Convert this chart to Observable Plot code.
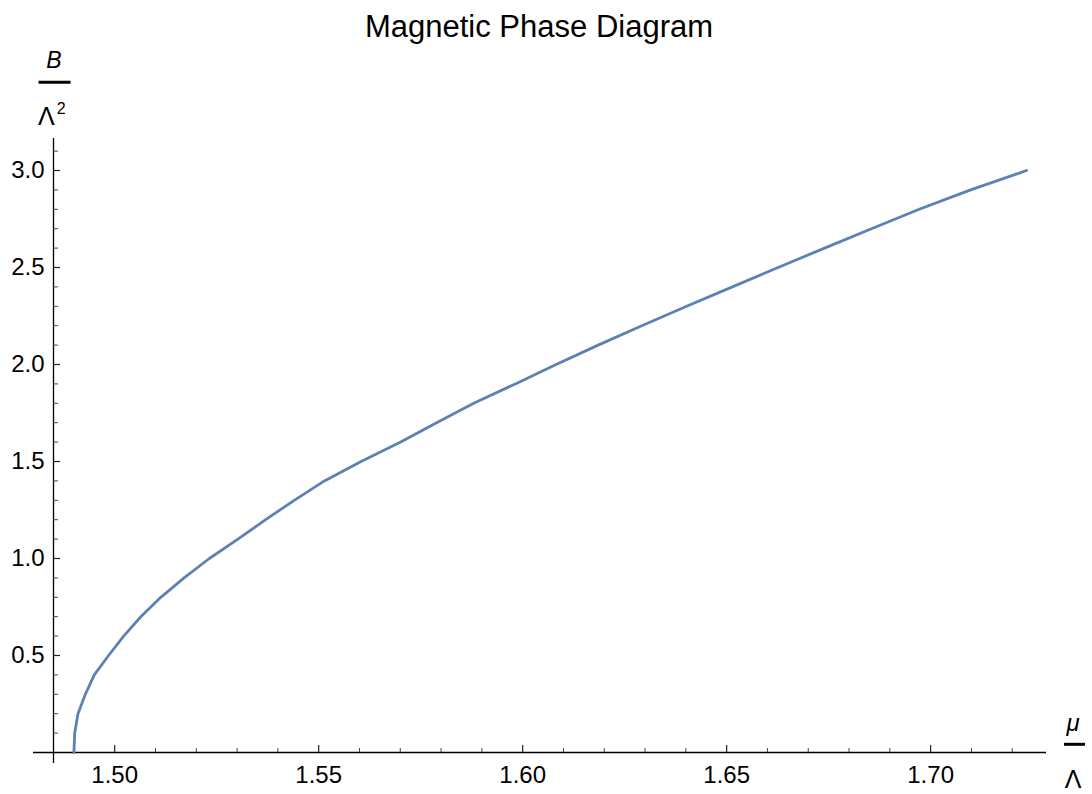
<!DOCTYPE html>
<html><head><meta charset="utf-8">
<script src="https://cdn.jsdelivr.net/npm/d3@7"></script>
<script src="https://cdn.jsdelivr.net/npm/@observablehq/plot@0.6"></script>
<style>
body{margin:0;background:#fff;}
#chart{width:1092px;height:794px;}
svg text{font-family:"Liberation Sans",Arial,Helvetica,sans-serif;}
</style>
</head><body><div id="chart"></div>
<script>
// Data (B/Λ² vs μ/Λ)
const B  = [0.0,0.1,0.2,0.3,0.4,0.5,0.6,0.7,0.8,0.9,1.0,1.1,1.2,1.3,1.4,1.5,1.6,1.7,1.8,1.9,2.0,2.1,2.2,2.3,2.4,2.5,2.6,2.7,2.8,2.9,3.0];
const mu = [1.4900,1.4902,1.4910,1.4928,1.4950,1.4985,1.5022,1.5064,1.5113,1.5170,1.5232,1.5302,1.5370,1.5440,1.5514,1.5604,1.5701,1.5789,1.5880,1.5982,1.6082,1.6185,1.6292,1.6402,1.6514,1.6626,1.6740,1.6855,1.6972,1.7098,1.7235];

const xMajor = [1.50,1.55,1.60,1.65,1.70];
const xMinor = [1.49,1.51,1.52,1.53,1.54,1.56,1.57,1.58,1.59,1.61,1.62,1.63,1.64,1.66,1.67,1.68,1.69,1.71,1.72];
const yMajor = [0.5,1.0,1.5,2.0,2.5,3.0];
const yMinor = [0.1,0.2,0.3,0.4,0.6,0.7,0.8,0.9,1.1,1.2,1.3,1.4,1.6,1.7,1.8,1.9,2.1,2.2,2.3,2.4,2.6,2.7,2.8,2.9,3.1];
const xDomain = [1.485, 1.7284];
const yDomain = [0, 3.165];
const title = "Magnetic Phase Diagram";

const data = B.map((b, i) => ({mu: mu[i], B: b}));

const W = 1092, H = 794;
const mL = 53, mR = 46, mT = 138, mB = 42;
const fw = W - mL - mR, fh = H - mT - mB;
const lineColor = "#5e81b5";
const font = "\"Liberation Sans\", Arial, Helvetica, sans-serif";

const chart = Plot.plot({
  width: W, height: H,
  marginLeft: mL, marginRight: mR, marginTop: mT, marginBottom: mB,
  style: {fontFamily: font, background: "#fff", overflow: "visible"},
  x: {domain: xDomain},
  y: {domain: yDomain},
  marks: [
    // axis lines
    Plot.ruleY([0], {stroke: "#000", strokeWidth: 1.3, insetLeft: -20}),
    Plot.ruleX([xDomain[0]], {stroke: "#000", strokeWidth: 1.3, insetBottom: -11}),
    // ticks
    Plot.ruleX(xMajor, {stroke: "#222", strokeWidth: 1.2, insetTop: fh - 7}),
    Plot.ruleX(xMinor, {stroke: "#444", strokeWidth: 1, insetTop: fh - 4}),
    Plot.ruleY(yMajor, {stroke: "#222", strokeWidth: 1.2, insetRight: fw - 7}),
    Plot.ruleY(yMinor, {stroke: "#444", strokeWidth: 1, insetRight: fw - 5}),
    // tick labels
    Plot.axisX({ticks: xMajor, tickSize: 0, tickPadding: 13, tickFormat: d3.format(".2f"), fontSize: 24, label: null, fill: "#000"}),
    Plot.axisY({ticks: yMajor, tickSize: 0, tickPadding: 9, tickFormat: d3.format(".1f"), fontSize: 24, label: null, fill: "#000"}),
    // curve
    Plot.line(data, {x: "mu", y: "B", stroke: lineColor, strokeWidth: 2.8, curve: "linear"})
  ]
});

const svg = d3.select(chart);
// Title
svg.append("text").attr("x", 539).attr("y", 37).attr("text-anchor", "middle")
  .attr("font-size", 31).attr("fill", "#000").text(title);
// Y-axis label: B / Λ²
svg.append("text").attr("x", 54).attr("y", 68).attr("text-anchor", "middle")
  .attr("font-size", 23).attr("font-style", "italic").attr("fill", "#000").text("B");
svg.append("line").attr("x1", 38.5).attr("x2", 70.5).attr("y1", 82.3).attr("y2", 82.3)
  .attr("stroke", "#000").attr("stroke-width", 3);
const yl = svg.append("text").attr("x", 38).attr("y", 125).attr("text-anchor", "start")
  .attr("font-size", 25).attr("fill", "#000");
yl.append("tspan").text("Λ");
yl.append("tspan").attr("font-size", 16).attr("dx", 2).attr("dy", -11).text("2");
// X-axis label: μ / Λ
svg.append("text").attr("x", 1073).attr("y", 731).attr("text-anchor", "middle")
  .attr("font-size", 24).attr("font-style", "italic").attr("fill", "#000").text("μ");
svg.append("line").attr("x1", 1064).attr("x2", 1085).attr("y1", 744.3).attr("y2", 744.3)
  .attr("stroke", "#000").attr("stroke-width", 3);
svg.append("text").attr("x", 1073).attr("y", 788).attr("text-anchor", "middle")
  .attr("font-size", 25).attr("fill", "#000").text("Λ");

document.getElementById("chart").appendChild(chart);
</script>
</body></html>
